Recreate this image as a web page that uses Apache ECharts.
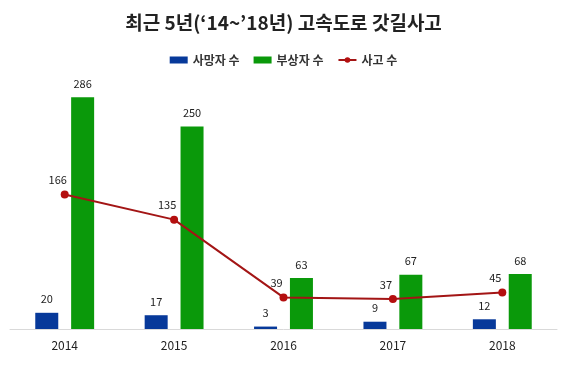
<!DOCTYPE html>
<html>
<head>
<meta charset="utf-8">
<script src="https://cdn.jsdelivr.net/npm/echarts@6/dist/echarts.min.js"></script>
<style>
html,body{margin:0;padding:0;background:#fff;}
#chart{width:567px;height:377px;}
</style>
</head>
<body>
<div id="chart"></div>
<script>
var years = ['2014', '2015', '2016', '2017', '2018'];
var death_data = [20, 17, 3, 9, 12];//사망자 수
var injury_data = [286, 250, 63, 67, 68];//부상자 수
var accident_data = [166, 135, 39, 37, 45];//사고 수

var font = '"Noto Sans CJK KR", "Noto Sans", sans-serif';
var chart = echarts.init(document.getElementById('chart'));
var option = {
    backgroundColor: '#fff',
    animation: false,
    title: {
        text: "최근 5년(\u201814~\u201918년) 고속도로 갓길사고",
        left: 'center',
        top: 8,
        textStyle: {
            fontFamily: font,
            fontSize: 19,
            fontWeight: 'bold',
            color: '#222'
        }
    },
    legend: {
        top: 49,
        left: 'center',
        itemWidth: 18,
        itemHeight: 7,
        itemGap: 14,
        textStyle: {
            fontFamily: font,
            fontSize: 12,
            fontWeight: 'bold',
            color: '#333'
        },
        data: [
            {name: '사망자 수', icon: 'rect'},
            {name: '부상자 수', icon: 'rect'},
            {name: '사고 수'}
        ]
    },
    grid: {
        left: 10,
        right: 10,
        top: 86,
        bottom: 48,
        containLabel: false
    },
    xAxis: {
        type: 'category',
        data: years,
        axisLine: {lineStyle: {color: '#d9d9d9', width: 1}},
        axisTick: {show: false},
        axisLabel: {
            fontFamily: font,
            fontSize: 12,
            color: '#222',
            margin: 10
        }
    },
    yAxis: {
        type: 'value',
        min: 0,
        max: 300,
        show: false,
        splitLine: {show: false}
    },
    series: [
        {
            name: '사망자 수',
            type: 'bar',
            data: death_data,
            barWidth: 23,
            barGap: '56%',
            itemStyle: {color: '#07399a'},
            label: {
                show: true,
                position: 'top',
                distance: 8,
                fontFamily: font,
                fontSize: 11,
                color: '#222'
            }
        },
        {
            name: '부상자 수',
            type: 'bar',
            data: injury_data,
            barWidth: 23,
            itemStyle: {color: '#0a990a'},
            label: {
                show: true,
                position: 'top',
                distance: 8,
                fontFamily: font,
                fontSize: 11,
                color: '#222'
            }
        },
        {
            name: '사고 수',
            type: 'line',
            data: accident_data,
            z: 5,
            symbol: 'circle',
            symbolSize: 8,
            itemStyle: {color: '#b40f0f'},
            lineStyle: {color: '#a31515', width: 2},
            label: {
                show: true,
                position: 'top',
                distance: 5,
                offset: [-7, 0],
                fontFamily: font,
                fontSize: 11,
                color: '#222'
            }
        }
    ]
};
chart.setOption(option);
</script>
</body>
</html>
